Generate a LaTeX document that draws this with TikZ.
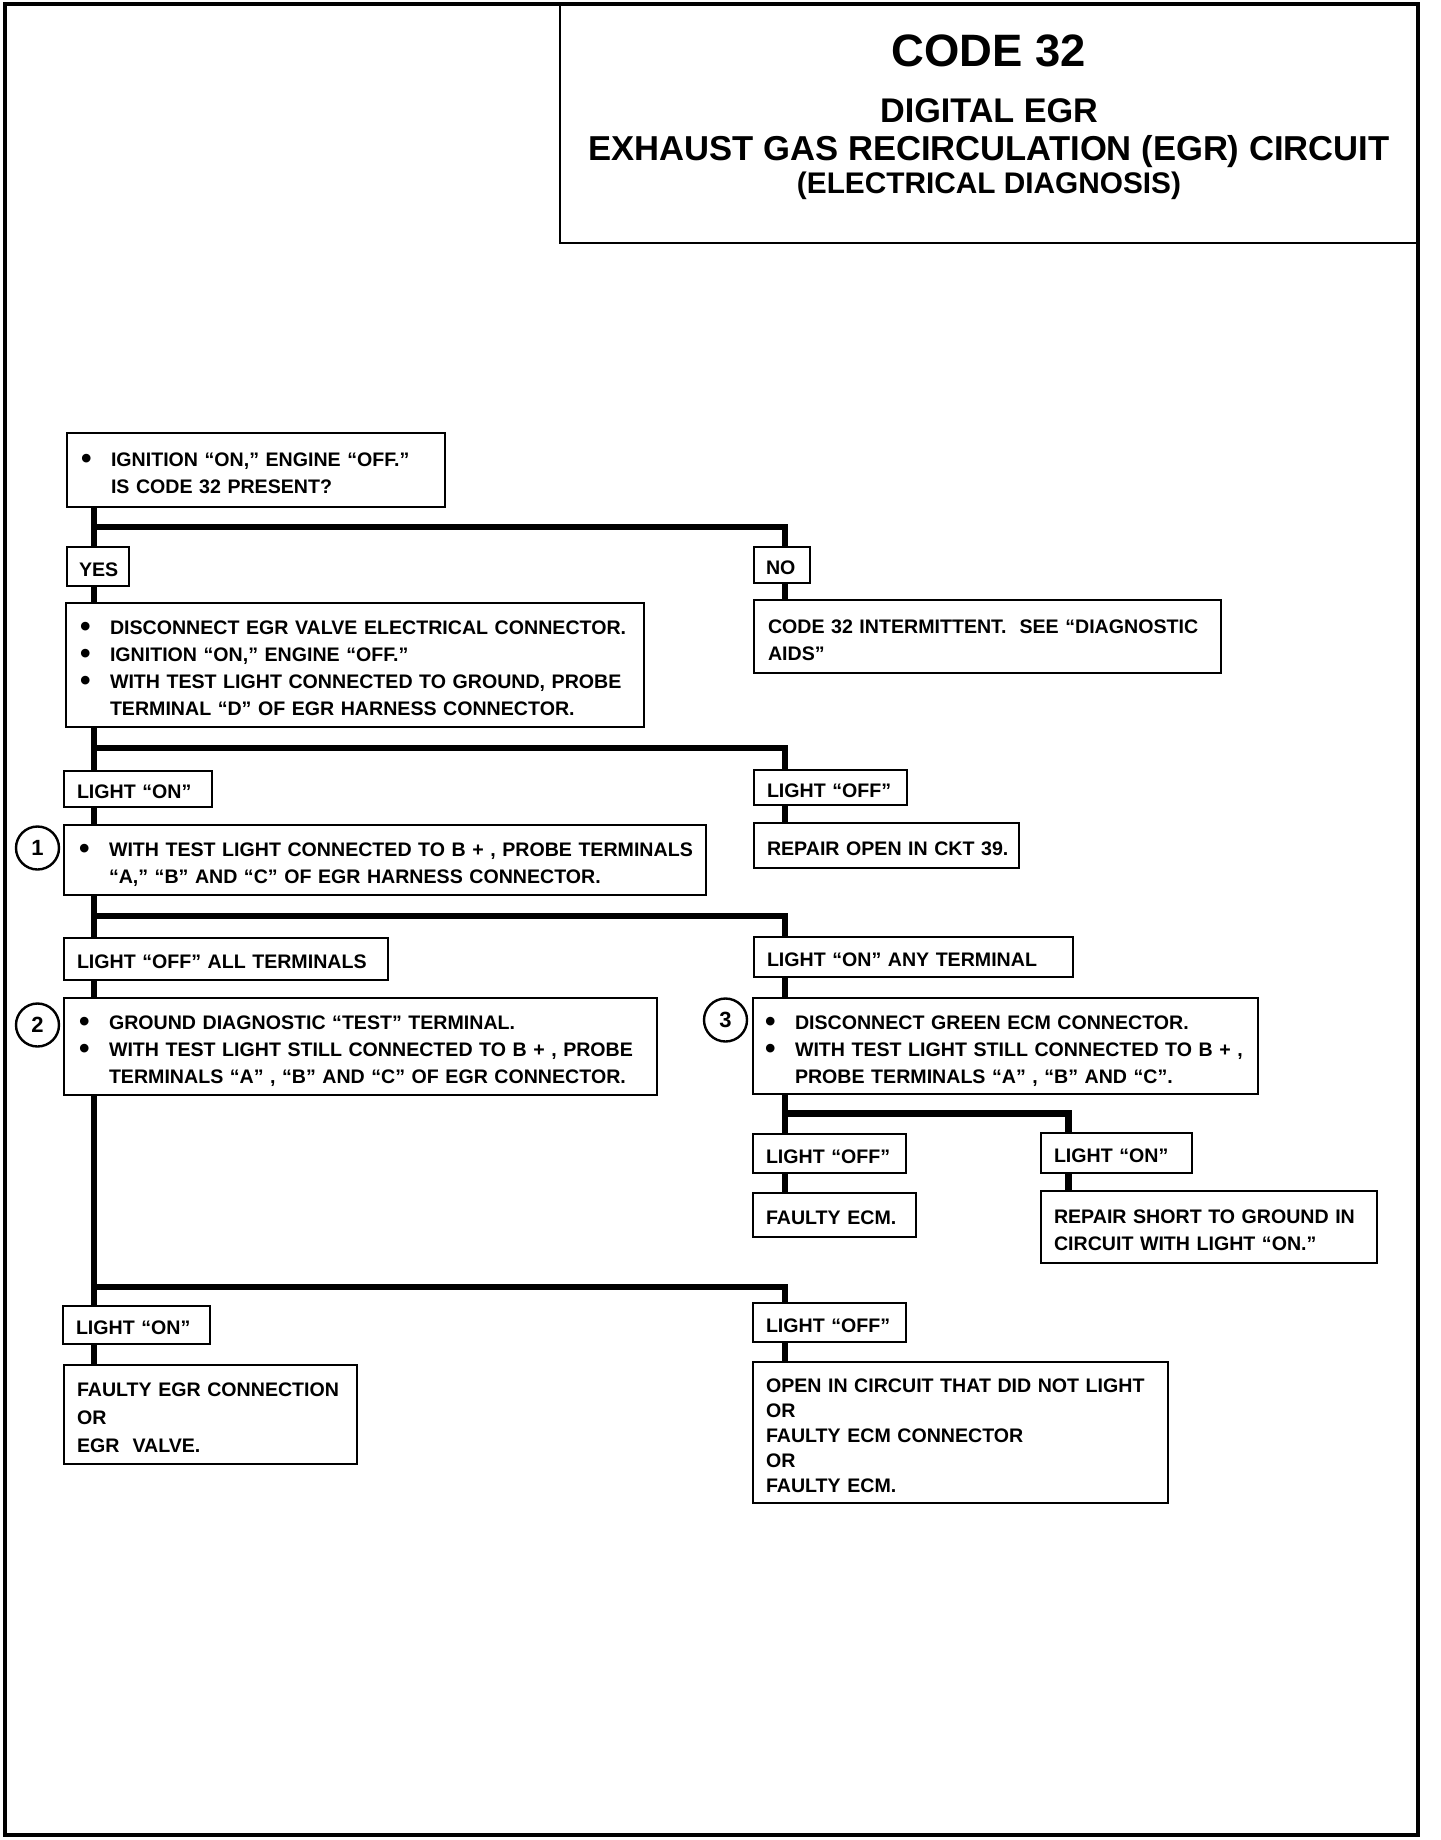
\documentclass[tikz,border=0pt]{standalone}
\usepackage{fontspec}
\setmainfont{Liberation Sans}
\setlength\parindent{0pt}
\newcommand\lines[1]{\begin{tabular}{@{}l@{}}#1\end{tabular}}
\newcommand\bul{\makebox[15pt][l]{\fontsize{15}{15}\selectfont\raisebox{-0.9pt}{\textbullet}}}
\newcommand\ind{\hspace*{15pt}}
\newcommand\flowbox[7]{%
  \pgfmathsetlengthmacro\fbw{(#4-#2)*0.5pt}%
  \pgfmathsetlengthmacro\fbh{(#5-#3)*0.5pt}%
  \pgfmathsetlengthmacro\fbi{#6*0.5pt}%
  \node[box, minimum width=\fbw, minimum height=\fbh, text width=\fbw, anchor=north west] (#1) at (#2,#3) {\vspace*{-5pt}\noindent\hspace*{\fbi}\lines{#7}};}
\begin{document}
\begin{tikzpicture}[x=0.5pt,y=-0.5pt,
  box/.style={draw, line width=1.3pt, inner xsep=0pt, inner ysep=0pt, outer sep=0pt, align=left, font=\bfseries\fontsize{9.8}{13.5}\selectfont},
  conn/.style={line width=3.2pt},
  num/.style={draw, circle, line width=1.2pt, minimum size=21.5pt, inner sep=0pt, font=\bfseries\fontsize{11}{12}\selectfont},
  ttl/.style={anchor=base, inner sep=0pt}]
\useasboundingbox (0,0) rectangle (1440,1840);
% outer frame and title box
\draw[line width=2.2pt] (5,4) rectangle (1418,1835);
\node[draw, line width=1.3pt, minimum width=429pt, minimum height=119.5pt, inner sep=0pt, outer sep=0pt, anchor=north west] (title) at (560,4) {};
\node[ttl, font=\bfseries\fontsize{22.7}{24}\selectfont] (t1) at (989,67) {CODE 32};
\node[ttl, font=\bfseries\fontsize{17.1}{19}\selectfont] (t2) at (989,123) {DIGITAL EGR};
\node[ttl, font=\bfseries\fontsize{17.3}{19}\selectfont] (t3) at (989,161) {EXHAUST GAS RECIRCULATION (EGR) CIRCUIT};
\node[ttl, font=\bfseries\fontsize{14.9}{17}\selectfont] (t4) at (989,194) {(ELECTRICAL DIAGNOSIS)};
% boxes
\flowbox{q1}{67}{433}{445}{507}{14}{\bul IGNITION “ON,” ENGINE “OFF.”\\ \ind IS CODE 32 PRESENT?}
\flowbox{yes}{67}{547}{129}{586}{12}{YES}
\flowbox{no}{754}{547}{810}{583}{12}{NO}
\flowbox{s2}{66}{603}{644}{727}{14}{\bul DISCONNECT EGR VALVE ELECTRICAL CONNECTOR.\\ \bul IGNITION “ON,” ENGINE “OFF.”\\ \bul WITH TEST LIGHT CONNECTED TO GROUND, PROBE\\ \ind TERMINAL “D” OF EGR HARNESS CONNECTOR.}
\flowbox{nores}{754}{600}{1221}{673}{14}{CODE 32 INTERMITTENT.\ \ SEE “DIAGNOSTIC\\ AIDS”}
\flowbox{lon1}{64}{771}{212}{807}{13}{LIGHT “ON”}
\flowbox{loff1}{754}{770}{907}{805}{13}{LIGHT “OFF”}
\flowbox{c1box}{64}{825}{706}{895}{15}{\bul WITH TEST LIGHT CONNECTED TO B + , PROBE TERMINALS\\ \ind “A,” “B” AND “C” OF EGR HARNESS CONNECTOR.}
\flowbox{repair}{754}{823}{1019}{868}{13}{REPAIR OPEN IN CKT 39.}
\flowbox{lall}{64}{938}{388}{980}{13}{LIGHT “OFF” ALL TERMINALS}
\flowbox{lany}{754}{937}{1073}{977}{13}{LIGHT “ON” ANY TERMINAL}
\flowbox{c2box}{64}{998}{657}{1095}{15}{\bul GROUND DIAGNOSTIC “TEST” TERMINAL.\\ \bul WITH TEST LIGHT STILL CONNECTED TO B + , PROBE\\ \ind TERMINALS “A” , “B” AND “C” OF EGR CONNECTOR.}
\flowbox{c3box}{753}{998}{1258}{1094}{12}{\bul DISCONNECT GREEN ECM CONNECTOR.\\ \bul WITH TEST LIGHT STILL CONNECTED TO B + ,\\ \ind PROBE TERMINALS “A” , “B” AND “C”.}
\flowbox{loff2}{753}{1134}{906}{1173}{13}{LIGHT “OFF”}
\flowbox{lon2}{1041}{1133}{1192}{1173}{13}{LIGHT “ON”}
\flowbox{fecm}{753}{1193}{916}{1237}{13}{FAULTY ECM.}
\flowbox{short}{1041}{1191}{1377}{1263}{13}{REPAIR SHORT TO GROUND IN\\ CIRCUIT WITH LIGHT “ON.”}
\flowbox{lon3}{63}{1306}{210}{1344}{13}{LIGHT “ON”}
\flowbox{egr}{64}{1365}{357}{1464}{13}{FAULTY EGR CONNECTION\\[0.5pt] OR\\[0.5pt] EGR\ \ VALVE.}
\flowbox{loff3}{753}{1303}{906}{1342}{13}{LIGHT “OFF”}
\flowbox{open}{753}{1362}{1168}{1503}{13}{\fontsize{9.8}{12.5}\selectfont\lines{OPEN IN CIRCUIT THAT DID NOT LIGHT\\ OR\\ FAULTY ECM CONNECTOR\\ OR\\ FAULTY ECM.}}
% step numbers
\node[num] (n1) at (37.5,848) {1};
\node[num] (n2) at (37.5,1025) {2};
\node[num] (n3) at (725.5,1020) {3};
% connector columns and junctions
\coordinate (tL) at (94,0);
\coordinate (tR) at (785,0);
\coordinate (tS) at (1068.5,0);
\coordinate (j1) at (94,527);
\coordinate (j2) at (94,748);
\coordinate (j3) at (94,916);
\coordinate (j4) at (785,1113.5);
\coordinate (j5) at (94,1287);
% connectors
\draw[conn] (q1.south -| tL) -- (yes.north -| tL);
\draw[conn] (j1) -| (no.north -| tR);
\draw[conn] (yes.south -| tL) -- (s2.north -| tL);
\draw[conn] (no.south -| tR) -- (nores.north -| tR);
\draw[conn] (s2.south -| tL) -- (lon1.north -| tL);
\draw[conn] (j2) -| (loff1.north -| tR);
\draw[conn] (lon1.south -| tL) -- (c1box.north -| tL);
\draw[conn] (loff1.south -| tR) -- (repair.north -| tR);
\draw[conn] (c1box.south -| tL) -- (lall.north -| tL);
\draw[conn] (j3) -| (lany.north -| tR);
\draw[conn] (lall.south -| tL) -- (c2box.north -| tL);
\draw[conn] (lany.south -| tR) -- (c3box.north -| tR);
\draw[conn] (c3box.south -| tR) -- (loff2.north -| tR);
\draw[conn] (j4) -| (lon2.north -| tS);
\draw[conn] (loff2.south -| tR) -- (fecm.north -| tR);
\draw[conn] (lon2.south -| tS) -- (short.north -| tS);
\draw[conn] (c2box.south -| tL) -- (lon3.north -| tL);
\draw[conn] (j5) -| (loff3.north -| tR);
\draw[conn] (lon3.south -| tL) -- (egr.north -| tL);
\draw[conn] (loff3.south -| tR) -- (open.north -| tR);
\end{tikzpicture}
\end{document}
